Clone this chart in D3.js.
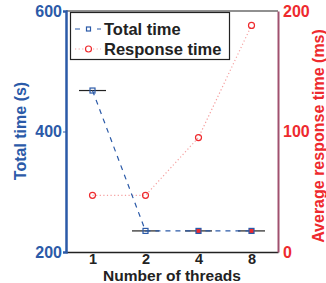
<!DOCTYPE html>
<html><head><meta charset="utf-8">
<script src="https://cdn.jsdelivr.net/npm/d3@7"></script>
<style>body{margin:0;background:#fff;}svg{display:block;font-family:"Liberation Sans",Arial,sans-serif;font-weight:bold;}</style>
</head><body>
<script>
const categories = ["1","2","4","8"];
const totalTime = [468, 235, 235, 235];
const responseTime = [47, 47, 95, 188];
const leftTicks = [200, 400, 600];
const rightTicks = [0, 100, 200];

const W = 326, H = 283;
const m = {l:66, r:48, t:11, b:31};
const blue = "#2b5aa8", red = "#ee2a2e", purple = "#a0506e";
const svg = d3.select("body").append("svg").attr("width",W).attr("height",H);
const x = d3.scalePoint().domain(categories).range([m.l, W-m.r]).padding(0.5);
const yL = d3.scaleLinear().domain([200,600]).range([H-m.b, m.t]);
const yR = d3.scaleLinear().domain([0,200]).range([H-m.b, m.t]);

svg.append("line").attr("x1",m.l).attr("x2",W-m.r).attr("y1",m.t).attr("y2",m.t).attr("stroke","#222").attr("stroke-width",1.2);

const gx = svg.append("g").attr("transform",`translate(0,${H-m.b})`)
  .call(d3.axisBottom(x).tickSize(0).tickPadding(2));
gx.select(".domain").attr("stroke","#222").attr("stroke-width",1.5);
gx.selectAll("text").attr("font-size",14.5).attr("fill","#222").attr("font-weight","bold");

const gl = svg.append("g").attr("transform",`translate(${m.l},0)`)
  .call(d3.axisLeft(yL).tickValues(leftTicks).tickSize(3).tickPadding(1));
gl.select(".domain").attr("stroke",blue).attr("stroke-width",2.5);
gl.selectAll(".tick line").attr("stroke",blue);
gl.selectAll("text").attr("font-size",16).attr("fill",blue).attr("font-weight","bold");

const gr = svg.append("g").attr("transform",`translate(${W-m.r},0)`)
  .call(d3.axisRight(yR).tickValues(rightTicks).tickSize(0).tickPadding(5));
gr.select(".domain").attr("stroke",purple).attr("stroke-width",2);
gr.selectAll("text").attr("font-size",16).attr("fill",red).attr("font-weight","bold");

svg.selectAll(".cap").data(categories).join("line")
  .attr("x1",d=>x(d)-13.5).attr("x2",d=>x(d)+13.5)
  .attr("y1",(d,i)=>yL(totalTime[i])).attr("y2",(d,i)=>yL(totalTime[i]))
  .attr("stroke","#222").attr("stroke-width",1.2);

const lr = d3.line().x((d,i)=>x(categories[i])).y(d=>yR(d));
svg.append("path").attr("d",lr(responseTime)).attr("fill","none")
  .attr("stroke","#f5a0a0").attr("stroke-width",1.2).attr("stroke-dasharray","1.2,2.4");
svg.selectAll(".rc").data(responseTime).join("circle")
  .attr("cx",(d,i)=>x(categories[i])).attr("cy",d=>yR(d)).attr("r",3)
  .attr("fill","none").attr("stroke",red).attr("stroke-width",1.2);

const lt = d3.line().x((d,i)=>x(categories[i])).y(d=>yL(d));
svg.append("path").attr("d",lt(totalTime)).attr("fill","none")
  .attr("stroke",blue).attr("stroke-width",1.2).attr("stroke-dasharray","5,5");
svg.selectAll(".ts").data(totalTime).join("rect")
  .attr("x",(d,i)=>x(categories[i])-2.5).attr("y",d=>yL(d)-2.5)
  .attr("width",5).attr("height",5)
  .attr("fill",(d,i)=>i>=2?red:"none").attr("stroke",blue).attr("stroke-width",1.2);

const lg = svg.append("g");
lg.append("rect").attr("x",70.5).attr("y",12.5).attr("width",159).attr("height",47)
  .attr("fill","#fff").attr("stroke","#222").attr("stroke-width",1.2);
lg.append("line").attr("x1",75).attr("x2",101).attr("y1",29).attr("y2",29)
  .attr("stroke",blue).attr("stroke-width",1.2).attr("stroke-dasharray","5,6");
lg.append("rect").attr("x",86.5).attr("y",27).attr("width",4).attr("height",4)
  .attr("fill","#fff").attr("stroke",blue).attr("stroke-width",1.2);
lg.append("line").attr("x1",75).attr("x2",101).attr("y1",49).attr("y2",49)
  .attr("stroke","#f5a0a0").attr("stroke-width",1.2).attr("stroke-dasharray","1.2,2.4");
lg.append("circle").attr("cx",88.5).attr("cy",49).attr("r",3)
  .attr("fill","#fff").attr("stroke",red).attr("stroke-width",1.2);
lg.append("text").attr("x",104).attr("y",34.5).attr("font-size",16.5).attr("fill","#222").text("Total time");
lg.append("text").attr("x",104).attr("y",54.5).attr("font-size",16.5).attr("fill","#222").text("Response time");

svg.append("text").attr("transform",`translate(26,131) rotate(-90)`).attr("text-anchor","middle")
  .attr("font-size",16).attr("fill",blue).text("Total time (s)");
svg.append("text").attr("transform",`translate(324,136) rotate(-90)`).attr("text-anchor","middle")
  .attr("font-size",16).attr("fill",red).text("Average response time (ms)");
svg.append("text").attr("x",172).attr("y",280.5).attr("text-anchor","middle")
  .attr("font-size",15.5).attr("fill","#222").text("Number of threads");
</script>
</body></html>
